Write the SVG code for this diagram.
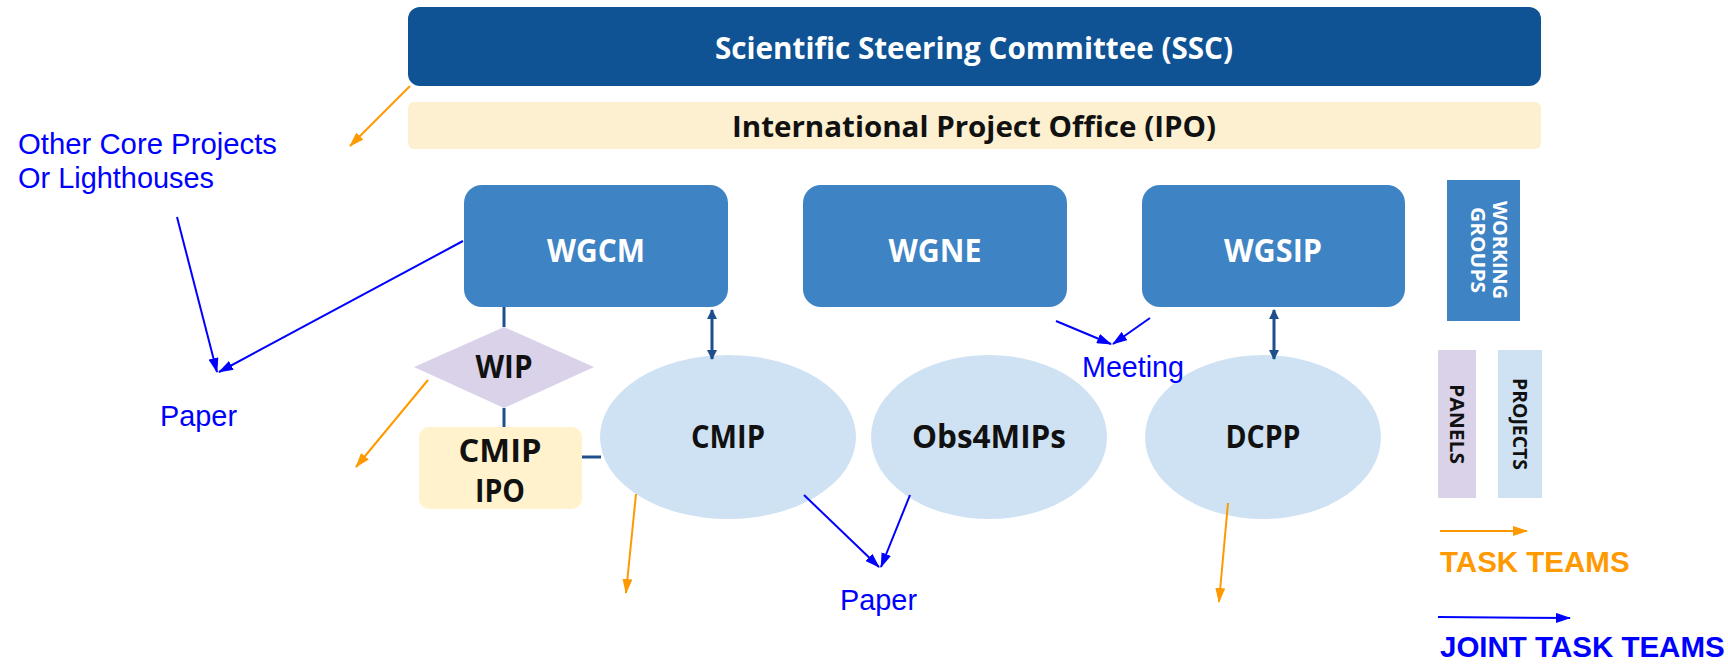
<svg xmlns="http://www.w3.org/2000/svg" width="1728" height="666" viewBox="0 0 1728 666">
<style>
.bt{font-family:"Open Sans",Lato,sans-serif;font-weight:bold;text-anchor:middle}
.w{fill:#ffffff}
.k{fill:#111111}
.wg{fill:#3e83c4}
.ell{fill:#cfe2f3}
.ar{font-family:"Liberation Sans",Arial,sans-serif;fill:#0000ff;font-size:30px}
.lg{font-family:"Liberation Sans",Arial,sans-serif;font-weight:bold;font-size:29.5px}
.dk{stroke:#1f4e8c;stroke-width:3;fill:none}
.or{stroke:#ff9900;stroke-width:2;fill:none;marker-end:url(#ao)}
.bl{stroke:#0000ff;stroke-width:2;fill:none;marker-end:url(#ab)}
</style>
<defs>
<marker id="ao" markerWidth="15" markerHeight="10" refX="14" refY="5" orient="auto" markerUnits="userSpaceOnUse"><path d="M0,0 L15,5 L0,10 Z" fill="#ff9900"/></marker>
<marker id="ab" markerWidth="15" markerHeight="10" refX="14" refY="5" orient="auto" markerUnits="userSpaceOnUse"><path d="M0,0 L15,5 L0,10 Z" fill="#0000ff"/></marker>
<marker id="ad" markerWidth="10" markerHeight="10" refX="9" refY="5" orient="auto-start-reverse" markerUnits="userSpaceOnUse"><path d="M0,0 L10,5 L0,10 Z" fill="#1f4e8c"/></marker>
</defs>
<rect width="1728" height="666" fill="#ffffff"/>

<g id="ssc">
<rect x="408" y="7" width="1133" height="79" rx="12" fill="#0f5394"/>
<text class="bt w" x="974" y="59" font-size="31" textLength="518" lengthAdjust="spacingAndGlyphs">Scientific Steering Committee (SSC)</text>
</g>
<g id="ipo">
<rect x="408" y="102" width="1133" height="47" rx="6" fill="#fdf0d0"/>
<text class="bt k" x="974" y="137" font-size="28" textLength="484" lengthAdjust="spacingAndGlyphs">International Project Office (IPO)</text>
</g>
<g id="wgcm">
<rect x="464" y="185" width="264" height="122" rx="18" class="wg"/>
<text class="bt w" x="596" y="262" font-size="32" textLength="98" lengthAdjust="spacingAndGlyphs">WGCM</text>
</g>
<g id="wgne">
<rect x="803" y="185" width="264" height="122" rx="18" class="wg"/>
<text class="bt w" x="935" y="262" font-size="32" textLength="93" lengthAdjust="spacingAndGlyphs">WGNE</text>
</g>
<g id="wgsip">
<rect x="1142" y="185" width="263" height="122" rx="18" class="wg"/>
<text class="bt w" x="1273" y="262" font-size="32" textLength="98" lengthAdjust="spacingAndGlyphs">WGSIP</text>
</g>
<g id="working-groups">
<rect x="1447" y="180" width="73" height="141" fill="#3e83c4"/>
<text class="bt w" font-size="20" transform="translate(1491,250) rotate(90)" x="0" y="0" dy="-2" textLength="98" lengthAdjust="spacingAndGlyphs">WORKING</text>
<text class="bt w" font-size="20" transform="translate(1469,250) rotate(90)" x="0" y="0" dy="-2" textLength="86" lengthAdjust="spacingAndGlyphs">GROUPS</text>
</g>
<g id="panels">
<rect x="1438" y="350" width="38" height="148" fill="#d9d2e9"/>
<text class="bt k" font-size="20" transform="translate(1450,424) rotate(90)" x="0" y="0" textLength="80" lengthAdjust="spacingAndGlyphs">PANELS</text>
</g>
<g id="projects">
<rect x="1498" y="350" width="44" height="148" fill="#cfe2f3"/>
<text class="bt k" font-size="20" transform="translate(1513,424) rotate(90)" x="0" y="0" textLength="92" lengthAdjust="spacingAndGlyphs">PROJECTS</text>
</g>
<g id="wip">
<polygon points="504,327 594,367 504,408 414,367" fill="#d9d2e9"/>
<text class="bt k" x="504" y="378" font-size="32" textLength="57" lengthAdjust="spacingAndGlyphs">WIP</text>
</g>
<g id="cmip-ipo">
<rect x="419" y="427" width="163" height="82" rx="10" fill="#fff2cc"/>
<text class="bt k" x="500" y="462" font-size="32" textLength="83" lengthAdjust="spacingAndGlyphs">CMIP</text>
<text class="bt k" x="500" y="502" font-size="32" textLength="50" lengthAdjust="spacingAndGlyphs">IPO</text>
</g>
<g id="cmip">
<ellipse cx="728" cy="437" rx="128" ry="82" class="ell"/>
<text class="bt k" x="728" y="448" font-size="32" textLength="74" lengthAdjust="spacingAndGlyphs">CMIP</text>
</g>
<g id="obs4mips">
<ellipse cx="989" cy="437" rx="118" ry="82" class="ell"/>
<text class="bt k" x="989" y="448" font-size="32" textLength="154" lengthAdjust="spacingAndGlyphs">Obs4MIPs</text>
</g>
<g id="dcpp">
<ellipse cx="1263" cy="437" rx="118" ry="82" class="ell"/>
<text class="bt k" x="1263" y="448" font-size="32" textLength="75" lengthAdjust="spacingAndGlyphs">DCPP</text>
</g>

<g id="labels">
<text class="ar" x="18" y="154" textLength="259" lengthAdjust="spacingAndGlyphs">Other Core Projects</text>
<text class="ar" x="18" y="188" textLength="196" lengthAdjust="spacingAndGlyphs">Or Lighthouses</text>
<text class="ar" x="160" y="426" textLength="77" lengthAdjust="spacingAndGlyphs">Paper</text>
<text class="ar" x="840" y="610" textLength="77" lengthAdjust="spacingAndGlyphs">Paper</text>
<text class="ar" x="1082" y="377" textLength="102" lengthAdjust="spacingAndGlyphs">Meeting</text>
<text class="lg" x="1440" y="572" fill="#ff9900">TASK TEAMS</text>
<text class="lg" x="1440" y="657" fill="#0000ff">JOINT TASK TEAMS</text>
</g>

<g id="connectors">
<line class="dk" x1="504" y1="307" x2="504" y2="327"/>
<line class="dk" x1="504" y1="408" x2="504" y2="427"/>
<line class="dk" x1="582" y1="457" x2="601" y2="457"/>
<line class="dk" x1="712" y1="310" x2="712" y2="359" marker-start="url(#ad)" marker-end="url(#ad)"/>
<line class="dk" x1="1274" y1="310" x2="1274" y2="359" marker-start="url(#ad)" marker-end="url(#ad)"/>
<line class="or" x1="410" y1="86" x2="350" y2="146"/>
<line class="or" x1="428" y1="380" x2="356" y2="467"/>
<line class="or" x1="636" y1="494" x2="626" y2="593"/>
<line class="or" x1="1228" y1="503" x2="1219" y2="602"/>
<line class="or" x1="1440" y1="531" x2="1527" y2="531"/>
<line class="bl" x1="177" y1="217" x2="217" y2="372"/>
<line class="bl" x1="463" y1="241" x2="219" y2="372"/>
<line class="bl" x1="804" y1="495" x2="879" y2="567"/>
<line class="bl" x1="910" y1="495" x2="881" y2="567"/>
<line class="bl" x1="1056" y1="321" x2="1111" y2="344"/>
<line class="bl" x1="1150" y1="318" x2="1113" y2="344"/>
<line class="bl" x1="1438" y1="617" x2="1570" y2="618"/>
</g>
</svg>
